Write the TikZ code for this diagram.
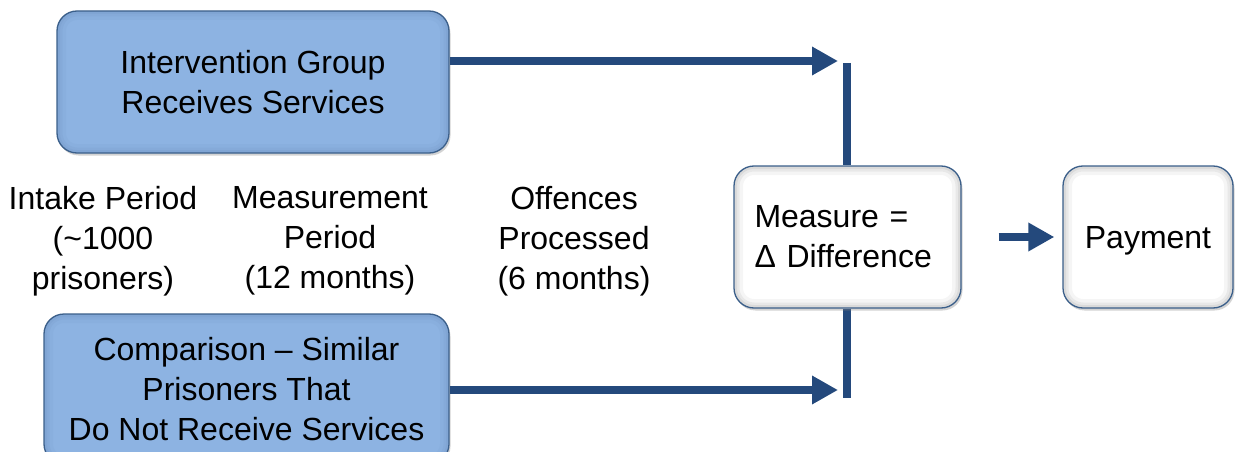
\documentclass[tikz,border=0pt]{standalone}
\usepackage{fontspec}
\setmainfont{Liberation Sans}
\usetikzlibrary{arrows.meta,shadows,calc,backgrounds}
\definecolor{boxblue}{HTML}{8DB3E2}
\definecolor{edgeblue}{HTML}{3B5F8A}
\definecolor{arrowblue}{HTML}{24497C}
\tikzset{
  txt/.style={font=\fontsize{32}{40}\selectfont, align=center, inner sep=0pt},
  glow/.style={path picture={
      \foreach \w/\o in {18/0.04,11/0.05,6/0.06}{
        \draw[#1, opacity=\o, line width=\w pt, rounded corners=20pt]
          (path picture bounding box.south west) rectangle (path picture bounding box.north east);}
  }},
  bluebox/.style={txt, rounded corners=20pt, draw=edgeblue, line width=1.3pt, fill=boxblue,
      glow=edgeblue,
      drop shadow={opacity=0.35, shadow xshift=1.5pt, shadow yshift=-2.5pt}},
  whitebox/.style={txt, rounded corners=20pt, draw=edgeblue, line width=1.3pt, fill=white,
      glow=black,
      drop shadow={opacity=0.35, shadow xshift=1.5pt, shadow yshift=-2.5pt}},
  arr/.style={draw=arrowblue, line width=7.5pt, -{Triangle[length=26pt,width=27pt]}},
  bar/.style={draw=arrowblue, line width=8pt},
}
\begin{document}
\begin{tikzpicture}[x=1pt,y=-1pt]
\useasboundingbox (0,0) rectangle (1235,452);

\node[bluebox, minimum width=392pt, minimum height=142pt] (top) at (253,82)
  {Intervention Group\\Receives Services};
\node[bluebox, minimum width=405pt, minimum height=150pt] (bottom) at (246.5,389)
  {Comparison -- Similar\\Prisoners That\\Do Not Receive Services};
\node[whitebox, minimum width=227pt, minimum height=142pt, align=left, text width=186pt] (measure) at (847.5,237)
  {Measure =\\Δ Difference};
\node[whitebox, minimum width=170pt, minimum height=142pt, text depth=0pt] (payment) at (1148,237) {Payment};

\coordinate (t1) at (838,61);
\coordinate (b1) at (838,390);
\coordinate (j1) at (847,63);
\coordinate (j2) at (847,398);

\begin{scope}[on background layer]
\draw[bar] (j1) -- (j1 |- measure.north);
\draw[bar] (j1 |- measure.south) -- (j2);
\end{scope}
\draw[arr] (top.east |- t1) -- (t1);
\draw[arr] (bottom.east |- b1) -- (b1);
\draw[arr, shorten <=37pt, shorten >=8pt] (measure.east) -- (payment.west);

\node[txt] (intake) at (103,241) {Intake Period\\(\textasciitilde1000\\prisoners)};
\node[txt] (meas) at (330,241) {Measurement\\Period\\(12 months)};
\node[txt] (off) at (574,241) {Offences\\Processed\\(6 months)};
\end{tikzpicture}
\end{document}
